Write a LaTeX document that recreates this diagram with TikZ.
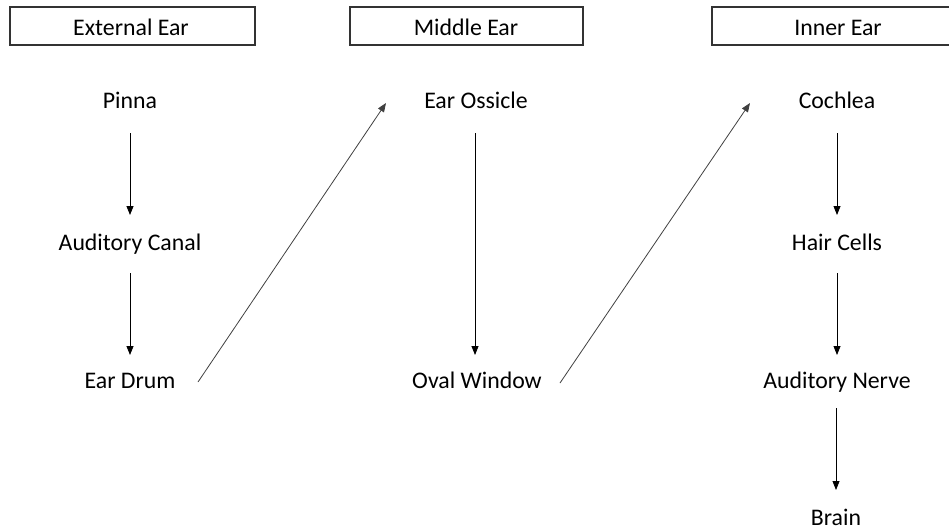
\documentclass[tikz,border=0pt]{standalone}
\usepackage{fontspec}
\setmainfont{Carlito}
\usetikzlibrary{arrows.meta,calc}
\tikzset{
  lbl/.style={anchor=base, inner sep=0pt, font=\fontsize{23.8}{26}\selectfont},
  hdr/.style={draw=black!80, line width=1.6pt, minimum height=38pt, inner sep=0pt},
  flow/.style={-{Triangle[length=9pt,width=7pt]}, line width=0.8pt, black},
  jump/.style={-{Triangle[length=9pt,width=7pt]}, line width=0.8pt, black!75},
}
\begin{document}
\begin{tikzpicture}[x=1pt,y=-1pt]
\useasboundingbox (0,0) rectangle (949,531);
\clip (0,0) rectangle (949,531);
% section headers
\node[hdr, minimum width=245pt] (hext) at (132.5,26) {};
\node[hdr, minimum width=233pt] (hmid) at (466.5,26) {};
\node[hdr, minimum width=248pt] (hinn) at (836,26) {};
\node[lbl] (text) at (131,35) {External Ear};
\node[lbl] (tmid) at (466,35) {Middle Ear};
\node[lbl] (tinn) at (838,35) {Inner Ear};
% external ear column
\node[lbl] (pinna) at (130,108) {Pinna};
\node[lbl] (canal) at (130,250) {Auditory Canal};
\node[lbl] (drum)  at (130,388) {Ear Drum};
% middle ear column
\node[lbl] (ossicle) at (476,108) {Ear Ossicle};
\node[lbl] (oval)    at (477,388) {Oval Window};
% inner ear column
\node[lbl] (cochlea) at (837,108) {Cochlea};
\node[lbl] (hair)    at (837,250) {Hair Cells};
\node[lbl] (nerve)   at (837,388) {Auditory Nerve};
\node[lbl] (brain)   at (836,525) {Brain};
% vertical flow arrows
\draw[flow] ($(pinna.base)+(0,25)$) -- ($(canal.base)+(0,-35)$);
\draw[flow] ($(canal.base)+(0,23)$) -- ($(drum.base)+(0,-33)$);
\draw[flow] ($(ossicle.base)+(-1,25)$) -- ($(oval.base)+(-2,-33)$);
\draw[flow] ($(cochlea.base)+(0,25)$) -- ($(hair.base)+(0,-35)$);
\draw[flow] ($(hair.base)+(0,23)$) -- ($(nerve.base)+(0,-33)$);
\draw[flow] ($(nerve.base)+(-1,20)$) -- ($(brain.base)+(0,-35)$);
% transitions between sections
\draw[jump] ($(drum.base)+(68,-6)$) -- ($(ossicle.base)+(-90,-5)$);
\draw[jump] ($(oval.base)+(83,-5)$) -- ($(cochlea.base)+(-87,-5)$);
\end{tikzpicture}
\end{document}
